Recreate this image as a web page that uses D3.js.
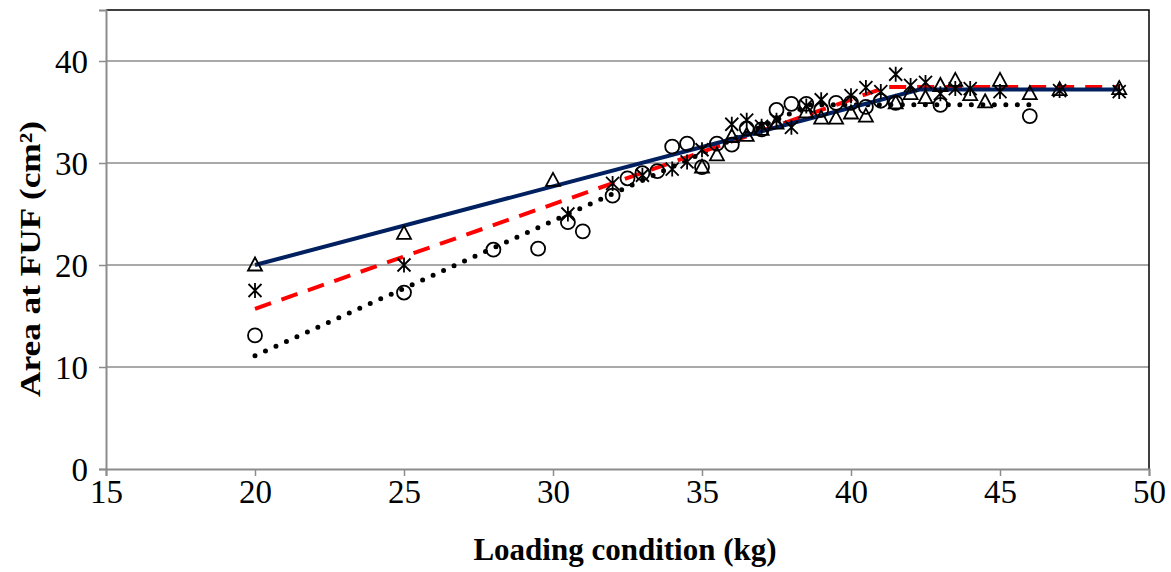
<!DOCTYPE html>
<html>
<head>
<meta charset="utf-8">
<script src="https://cdn.jsdelivr.net/npm/d3@7"></script>
<style>
  body { margin: 0; background: #fff; }
</style>
</head>
<body>
<svg id="chart"></svg>
<script>
// measured points, three groups (x = load in kg, y = area in cm2)
var triangles = [
  [20, 20.0], [25, 23.1], [30, 28.3], [35, 29.6], [35.5, 30.8], [36, 32.6],
  [36.5, 32.7], [37, 33.3], [37.5, 33.9], [38.5, 35.0], [39, 34.4], [39.5, 34.4],
  [40, 34.9], [40.5, 34.6], [41.5, 35.9], [42, 36.8], [42.5, 36.4], [43, 37.6],
  [43.5, 38.1], [44, 36.7], [44.5, 36.0], [45, 38.1], [46, 36.8], [47, 37.2], [49, 37.3]
];
var stars = [
  [20, 17.5], [25, 20.0], [30.5, 25.0], [32, 28.0], [33, 28.8], [34, 29.4],
  [34.5, 30.1], [35, 31.3], [36, 33.8], [36.5, 34.2], [37, 33.6], [37.5, 34.2],
  [38, 33.5], [38.5, 35.6], [39, 36.2], [40, 36.6], [40.5, 37.4], [41, 37.0],
  [41.5, 38.7], [42, 37.6], [42.5, 37.9], [43, 36.8], [43.5, 37.3], [44, 37.3],
  [45, 37.0], [47, 37.1], [49, 37.0]
];
var circles = [
  [20, 13.1], [25, 17.3], [28, 21.5], [29.5, 21.6], [30.5, 24.2], [31, 23.3],
  [32, 26.8], [32.5, 28.5], [33, 29.0], [33.5, 29.2], [34, 31.6], [34.5, 31.9],
  [35, 29.6], [35.5, 31.9], [36, 31.8], [36.5, 33.4], [37, 33.3], [37.5, 35.2],
  [38, 35.8], [38.5, 35.8], [39, 35.2], [39.5, 35.9], [40, 35.9], [40.5, 35.5],
  [41, 36.1], [41.5, 35.9], [43, 35.7], [46, 34.6]
];

// fitted segmented lines
var fitTriangles = [[20, 20.0], [42.3, 37.2], [49, 37.2]];
var fitStars = [[20, 15.7], [41.2, 37.45], [49, 37.45]];
var fitCircles = [[20, 11.1], [38.6, 35.7], [46, 35.7]];

var xTicks = [15, 20, 25, 30, 35, 40, 45, 50];
var yTicks = [0, 10, 20, 30, 40];

var width = 1171, height = 572;
var plot = {left: 106, right: 1149, top: 10, bottom: 469};
var FONT = "Liberation Serif, Times New Roman, serif";

var svg = d3.select("#chart")
  .attr("width", width)
  .attr("height", height);

var x = d3.scaleLinear().domain([15, 50]).range([plot.left, plot.right]);
var y = d3.scaleLinear().domain([0, 45]).range([plot.bottom, plot.top]);

// gridlines
svg.append("g").selectAll("line")
  .data(yTicks.filter(function(d){ return d > 0; }))
  .enter().append("line")
  .attr("x1", plot.left).attr("x2", plot.right)
  .attr("y1", function(d){ return y(d); })
  .attr("y2", function(d){ return y(d); })
  .attr("stroke", "#8c8c8c")
  .attr("stroke-width", 1.5);

// top and right border of plot area
svg.append("path")
  .attr("d", "M" + plot.left + "," + plot.top + "H" + plot.right + "V" + plot.bottom)
  .attr("fill", "none")
  .attr("stroke", "#000")
  .attr("stroke-width", 1.5);

// axes
var xAxis = svg.append("g")
  .attr("transform", "translate(0," + plot.bottom + ")")
  .call(d3.axisBottom(x).tickValues(xTicks).tickSize(7).tickPadding(4));
var yAxis = svg.append("g")
  .attr("transform", "translate(" + plot.left + ",0)")
  .call(d3.axisLeft(y).tickValues(yTicks).tickSize(7).tickPadding(11));

[xAxis, yAxis].forEach(function(a){
  a.attr("font-family", null).attr("font-size", null);
  a.select(".domain").attr("stroke", "#8c8c8c").attr("stroke-width", 2);
  a.selectAll(".tick line").attr("stroke", "#8c8c8c").attr("stroke-width", 1.5);
  a.selectAll(".tick text")
    .attr("fill", "#000")
    .attr("font-family", FONT)
    .attr("font-size", 33);
});
yAxis.selectAll(".tick text").attr("dy", "0.34em");

// fitted lines
var line = d3.line()
  .x(function(d){ return x(d[0]); })
  .y(function(d){ return y(d[1]); });

svg.append("path").datum(fitCircles)
  .attr("d", line)
  .attr("fill", "none")
  .attr("stroke", "#000")
  .attr("stroke-width", 5)
  .attr("stroke-linecap", "round")
  .attr("stroke-dasharray", "0 11.5");

svg.append("path").datum(fitStars)
  .attr("d", line)
  .attr("fill", "none")
  .attr("stroke", "#ff0000")
  .attr("stroke-width", 4)
  .attr("stroke-dasharray", "17 11");

svg.append("path").datum(fitTriangles)
  .attr("d", line)
  .attr("fill", "none")
  .attr("stroke", "#002060")
  .attr("stroke-width", 4);

// markers
var mk = svg.append("g")
  .attr("fill", "none")
  .attr("stroke", "#000")
  .attr("stroke-width", 1.8);

mk.selectAll(".tri").data(triangles)
  .enter().append("path")
  .attr("class", "tri")
  .attr("transform", function(d){ return "translate(" + x(d[0]) + "," + y(d[1]) + ")"; })
  .attr("d", "M0,-7.5L7,5.5L-7,5.5Z");

mk.selectAll(".star").data(stars)
  .enter().append("path")
  .attr("class", "star")
  .attr("transform", function(d){ return "translate(" + x(d[0]) + "," + y(d[1]) + ")"; })
  .attr("d", "M0,-7.5V7.5M-6.5,-6.5L6.5,6.5M6.5,-6.5L-6.5,6.5");

mk.selectAll(".circ").data(circles)
  .enter().append("circle")
  .attr("class", "circ")
  .attr("cx", function(d){ return x(d[0]); })
  .attr("cy", function(d){ return y(d[1]); })
  .attr("r", 7);

// axis titles
svg.append("text")
  .attr("x", 625)
  .attr("y", 560)
  .attr("text-anchor", "middle")
  .attr("font-family", FONT)
  .attr("font-size", 31)
  .attr("font-weight", "bold")
  .text("Loading condition (kg)");

svg.append("text")
  .attr("transform", "translate(40,259) rotate(-90)")
  .attr("text-anchor", "middle")
  .attr("font-family", FONT)
  .attr("font-size", 30)
  .attr("font-weight", "bold")
  .attr("textLength", 276)
  .attr("lengthAdjust", "spacingAndGlyphs")
  .text("Area at FUF (cm²)");
</script>
</body>
</html>
